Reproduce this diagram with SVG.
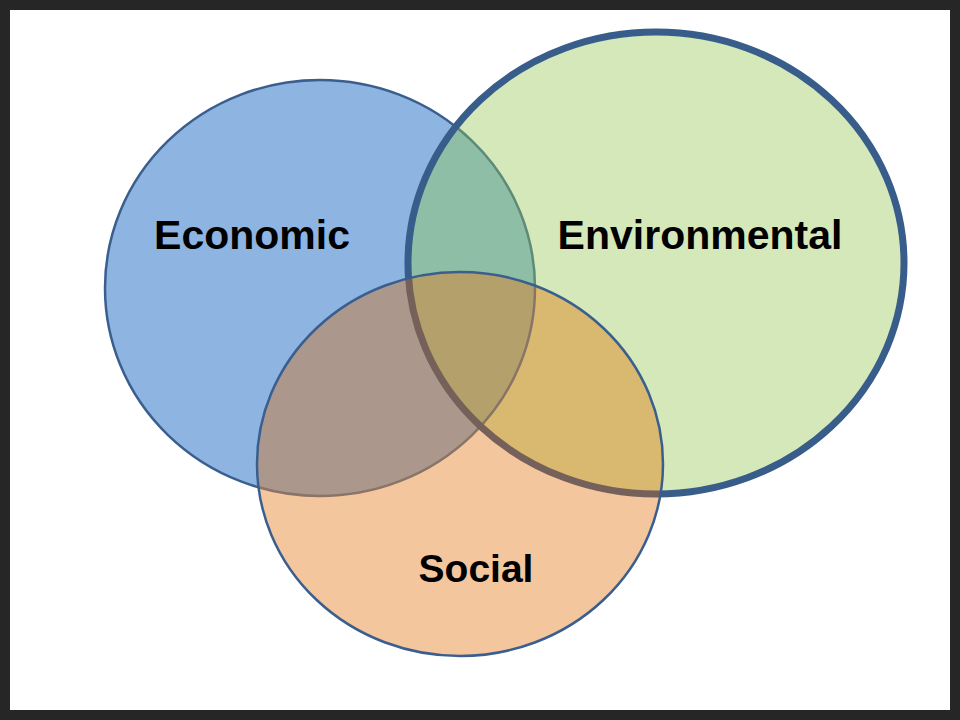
<svg xmlns="http://www.w3.org/2000/svg" width="960" height="720" viewBox="0 0 960 720">
  <defs>
    <clipPath id="cE"><ellipse cx="320" cy="288" rx="215" ry="208"/></clipPath>
    <clipPath id="cV"><ellipse cx="656" cy="263" rx="248" ry="231"/></clipPath>
    <clipPath id="cS"><ellipse cx="460" cy="464" rx="203" ry="192"/></clipPath>
    <ellipse id="eE" cx="320" cy="288" rx="215" ry="208"/>
    <ellipse id="eV" cx="656" cy="263" rx="248" ry="231"/>
    <ellipse id="eS" cx="460" cy="464" rx="203" ry="192"/>
  </defs>
  <style>
    .lbl { font-family: "Liberation Sans", Arial, sans-serif; font-weight: bold; font-size: 41px; fill: #000; text-anchor: middle; }
    .thin { fill: none; stroke-width: 2.5; }
  </style>
  <rect x="0" y="0" width="960" height="720" fill="#262626"/>
  <rect x="10" y="10" width="940" height="700" fill="#ffffff"/>

  <g id="economic">
    <use href="#eE" fill="#8EB4E2"/>
    <use href="#eE" class="thin" stroke="#3A5F8E"/>
  </g>

  <g id="environmental">
    <use href="#eV" fill="#D4E8BA"/>
    <g clip-path="url(#cV)">
      <use href="#eE" fill="#8FBEA6"/>
      <use href="#eE" class="thin" stroke="#5E8A78"/>
    </g>
    <use href="#eV" fill="none" stroke="#385D8A" stroke-width="7"/>
  </g>

  <g id="social">
    <use href="#eS" fill="#F4C69E"/>
    <g clip-path="url(#cS)">
      <use href="#eE" fill="#AC978D"/>
      <use href="#eV" fill="#D9B870"/>
      <g clip-path="url(#cE)">
        <use href="#eV" fill="#B4A06A"/>
      </g>
      <use href="#eE" class="thin" stroke="#8A7468"/>
      <use href="#eV" fill="none" stroke="#75605A" stroke-width="7"/>
    </g>
    <use href="#eS" class="thin" stroke="#3A5F8E"/>
  </g>

  <g id="labels">
    <text class="lbl" x="252" y="249">Economic</text>
    <text class="lbl" x="700" y="249">Environmental</text>
    <text class="lbl" x="476" y="582" style="font-size:39px">Social</text>
  </g>
</svg>
